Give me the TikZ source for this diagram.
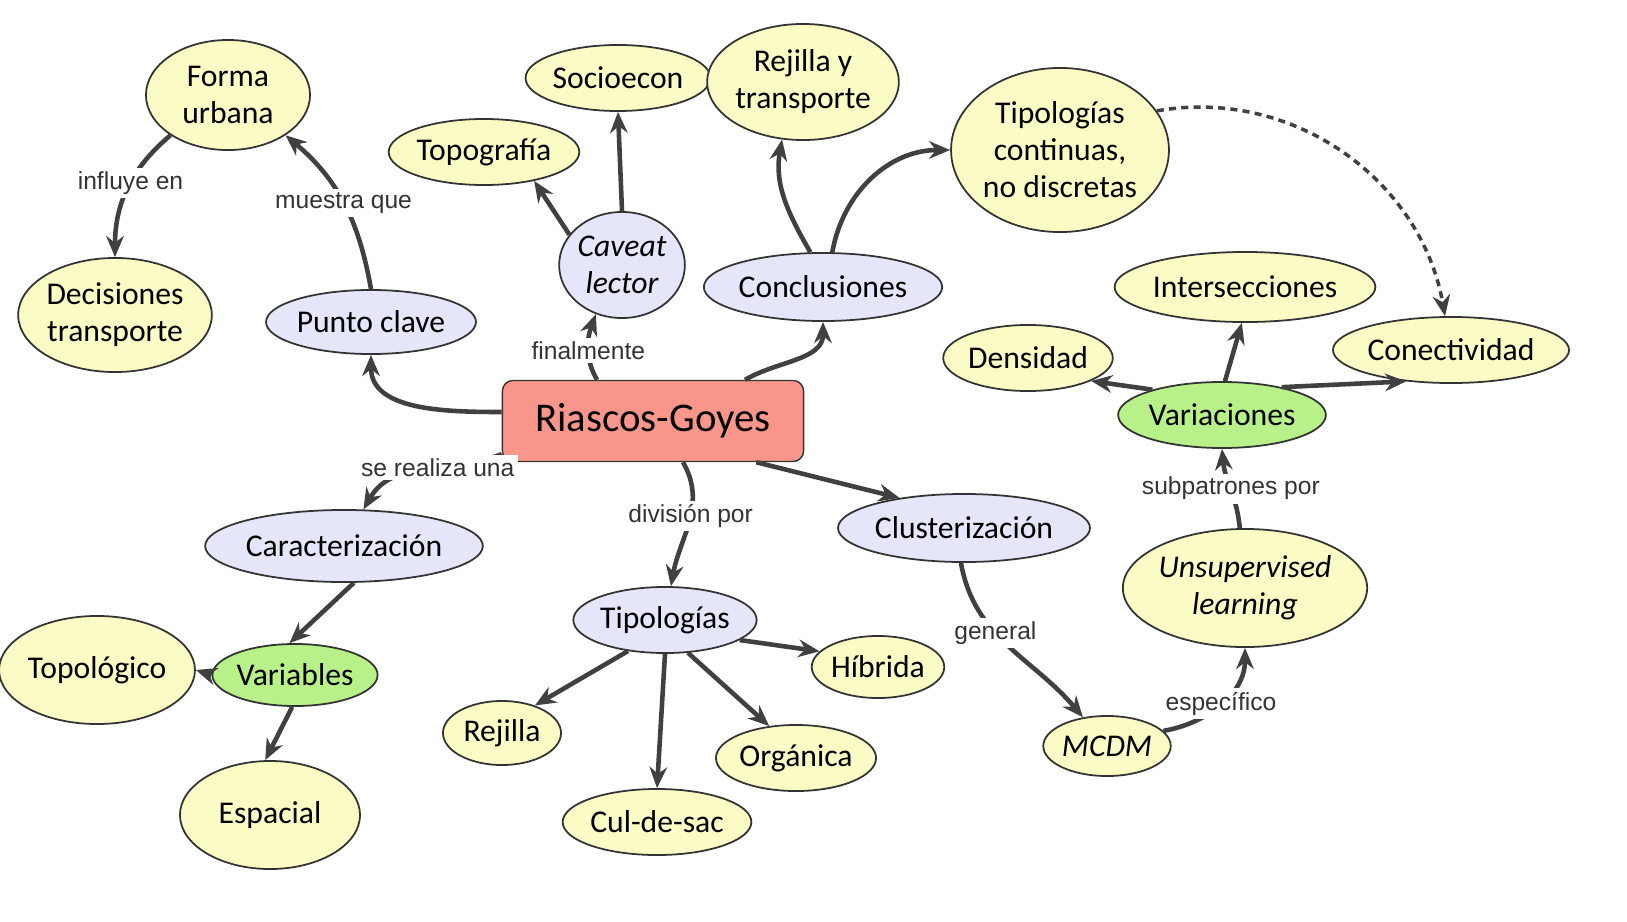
\documentclass[tikz,border=0pt]{standalone}
\usepackage{fontspec}
\setmainfont{Carlito}
\newfontfamily\lblfont{Liberation Sans}
\usetikzlibrary{shapes.geometric,arrows.meta}
\definecolor{leaf}{HTML}{FBFBC6}
\definecolor{mid}{HTML}{E6E6FA}
\definecolor{grn}{HTML}{B8F08A}
\definecolor{root}{HTML}{F8968B}
\definecolor{edge}{HTML}{404040}

\begin{document}
\begin{tikzpicture}[x=0.01cm,y=-0.01cm,
  every node/.style={font=\fontsize{9}{10.5}\selectfont, align=center},
  oval/.style={ellipse, draw=black!80, line width=0.5pt, inner sep=0pt, fill=leaf},
  link/.style={draw=edge, line width=1.3pt, -{Stealth[length=6pt,width=5pt]}},
  lbl/.style={fill=white, inner sep=1pt, font=\lblfont\fontsize{7}{8}\selectfont, text=black!80}]
\useasboundingbox (0,0) rectangle (1627,921);

% Nodes
\node[draw=black!80, fill=root, rounded corners=3pt, minimum width=3.01cm, minimum height=0.81cm, font=\fontsize{11.6}{13}\selectfont] (rg) at (653,421) {Riascos-Goyes};
\node[oval, minimum width=1.64cm, minimum height=1.10cm] (fu) at (228,95) {Forma\\urbana};
\node[oval, minimum width=1.84cm, minimum height=1.14cm] (dt) at (115,315) {Decisiones\\transporte};
\node[oval, fill=mid, minimum width=1.86cm, minimum height=0.64cm] (pc) at (371,322) {Punto clave};
\node[oval, minimum width=1.76cm, minimum height=0.66cm] (topo) at (484,152) {Topografía};
\node[oval, minimum width=1.66cm, minimum height=0.66cm] (soc) at (618,78) {Socioecon};
\node[oval, fill=mid, minimum width=1.22cm, minimum height=1.06cm, font=\fontsize{9}{10.5}\selectfont\itshape] (cav) at (622,265) {Caveat\\lector};
\node[oval, minimum width=1.86cm, minimum height=1.16cm] (rt) at (803,82) {Rejilla y\\transporte};
\node[oval, fill=mid, minimum width=2.04cm, minimum height=0.68cm] (conc) at (823,287) {Conclusiones};
\node[oval, minimum width=2.16cm, minimum height=1.64cm] (tc) at (1060,150) {Tipologías\\continuas,\\no discretas};
\node[oval, minimum width=2.22cm, minimum height=0.70cm] (inter) at (1245,287) {Intersecciones};
\node[oval, minimum width=1.50cm, minimum height=0.66cm] (dens) at (1028,358) {Densidad};
\node[oval, minimum width=2.02cm, minimum height=0.66cm] (conec) at (1451,350) {Conectividad};
\node[oval, fill=grn, minimum width=1.82cm, minimum height=0.66cm] (var) at (1222,415) {Variaciones};
\node[oval, minimum width=2.18cm, minimum height=1.18cm, font=\fontsize{9}{10.5}\selectfont\itshape] (ul) at (1245,588) {Unsupervised\\learning};
\node[oval, minimum width=1.08cm, minimum height=0.60cm, font=\fontsize{9}{10.5}\selectfont\itshape] (mcdm) at (1107,746) {MCDM};
\node[oval, fill=mid, minimum width=2.16cm, minimum height=0.68cm] (clus) at (964,528) {Clusterización};
\node[oval, fill=mid, minimum width=2.38cm, minimum height=0.72cm] (car) at (344,546) {Caracterización};
\node[oval, fill=grn, minimum width=1.50cm, minimum height=0.62cm] (vbl) at (295,675) {Variables};
\node[oval, minimum width=1.78cm, minimum height=1.08cm] (tpl) at (97,670) {Topológico};
\node[oval, minimum width=1.80cm, minimum height=1.08cm] (esp) at (270,815) {Espacial};
\node[oval, fill=mid, minimum width=1.66cm, minimum height=0.66cm] (tip) at (665,620) {Tipologías};
\node[oval, minimum width=1.26cm, minimum height=0.62cm] (hib) at (878,667) {Híbrida};
\node[oval, minimum width=1.18cm, minimum height=0.64cm] (rej) at (502,733) {Rejilla};
\node[oval, minimum width=1.48cm, minimum height=0.66cm] (org) at (796,758) {Orgánica};
\node[oval, minimum width=1.64cm, minimum height=0.66cm] (cds) at (657,822) {Cul-de-sac};

% Lines
\draw[link] (rg.west) ++(0,-9) to[out=180,in=-90] (pc.south);
\draw[link] (pc.north) to[out=100,in=-40] node[lbl, pos=0.5] {muestra que} (fu.-35);
\draw[link] (fu.-145) to[out=-140,in=90] node[lbl, pos=0.45] {influye en} (dt.north);
\draw[link] (rg.north) ++(-56,0) to[out=120,in=-110] node[lbl, pos=0.45] {finalmente} (cav.-118);
\draw[link] (cav.150) -- (topo.-30);
\draw[link] (cav.north) -- (soc.south);
\draw[link] (rg.north) ++(92,0) to[out=30,in=-90] (conc.south);
\draw[link] (conc.110) to[out=120,in=-100] (rt.-110);
\draw[link] (conc.75) to[out=80,in=180] (tc.west);
\draw[link, dash pattern=on 2pt off 1.5pt, line width=1pt] (tc.22) to[out=10,in=100] (conec.100);
\draw[link] (var.160) -- (dens.-20);
\draw[link] (var.85) -- (inter.-95);
\draw[link] (var.25) -- (conec.-145);
\draw[link] (ul.95) to[out=95,in=-85] node[lbl, pos=0.5] {subpatrones por} (var.-90);
\draw[link] (mcdm.15) to[out=10,in=-90] node[lbl, pos=0.5] {específico} (ul.-90);
\draw[link] (clus.-95) to[out=-80,in=130] node[lbl, pos=0.4] {general} (mcdm.130);
\draw[link] (rg.south east) ++(-48,0) -- (clus.155);
\draw[link] (rg.south) ++(30,0) to[out=-60,in=80] node[lbl, pos=0.45] {división por} (tip.80);
\draw[link] (rg.south west) ++(0,-8) to[out=-160,in=60] node[lbl, pos=0.4] {se realiza una} (car.62);
\draw[link] (car.-75) -- (vbl.100);
\draw[link] (vbl.west) -- (tpl.east);
\draw[link] (vbl.-95) -- (esp.95);
\draw[link] (tip.-140) -- (rej.40);
\draw[link] (tip.-90) -- (cds.north);
\draw[link] (tip.-55) -- (org.130);
\draw[link] (tip.-15) -- (hib.165);
\end{tikzpicture}
\end{document}
